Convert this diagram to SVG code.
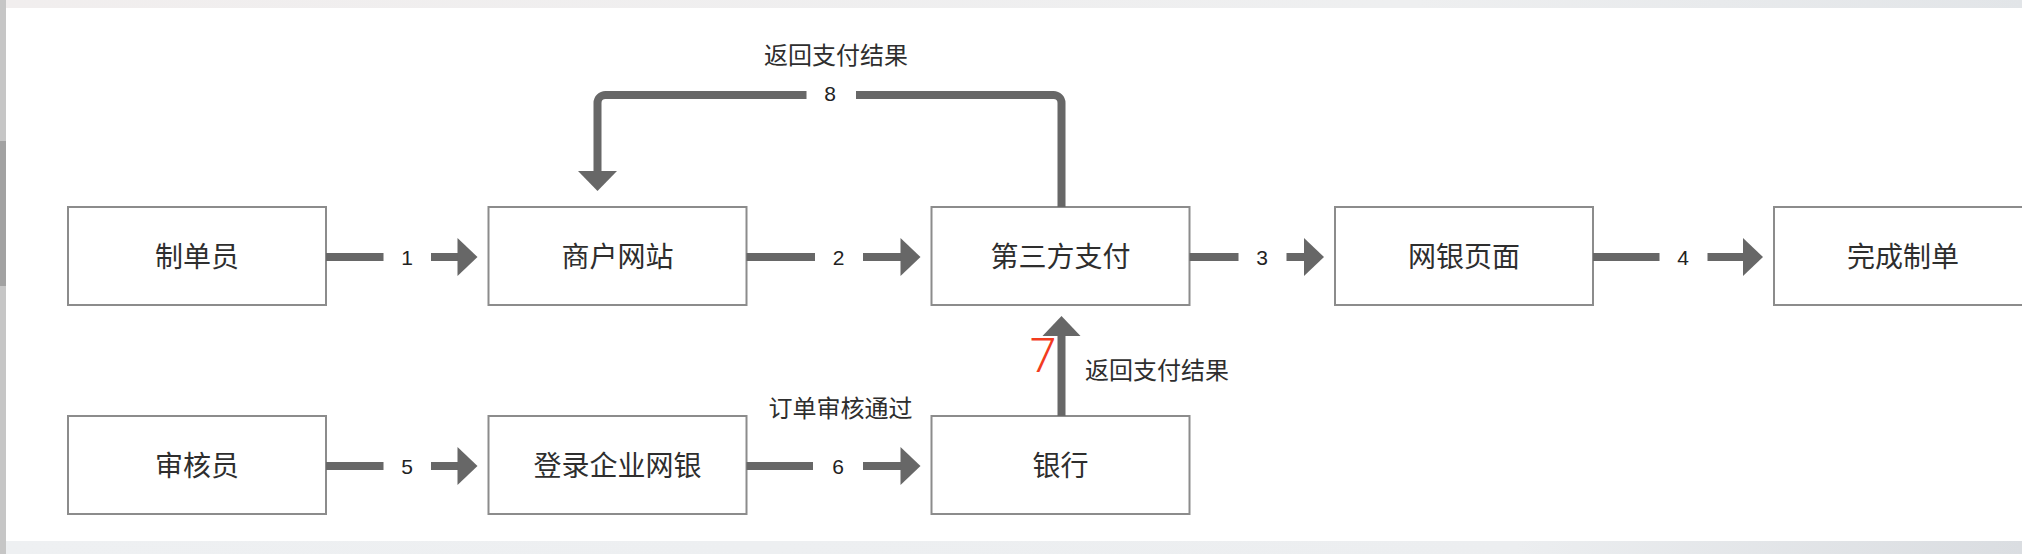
<svg xmlns="http://www.w3.org/2000/svg" width="2022" height="554" viewBox="0 0 2022 554">
  <defs>
    <linearGradient id="barTop" x1="0" y1="0" x2="1" y2="0">
      <stop offset="0" stop-color="#f1eeee"/>
      <stop offset="0.7" stop-color="#eeeff0"/>
      <stop offset="1" stop-color="#e2e5e8"/>
    </linearGradient>
    <linearGradient id="barBot" x1="0" y1="0" x2="1" y2="0">
      <stop offset="0" stop-color="#eef0f2"/>
      <stop offset="0.75" stop-color="#eceef0"/>
      <stop offset="1" stop-color="#dadde1"/>
    </linearGradient>
  </defs>
  <style>
    .box { fill: #ffffff; stroke: #8c8c8c; stroke-width: 2; }
    .btxt { font-family: "Liberation Sans", "Noto Sans CJK SC", sans-serif; font-size: 28px; fill: #2e2e2e; text-anchor: middle; }
    .lbl { font-family: "Liberation Sans", "Noto Sans CJK SC", sans-serif; font-size: 24px; fill: #2e2e2e; }
    .num { font-family: "Liberation Sans", "Noto Sans CJK SC", sans-serif; font-size: 21px; fill: #222222; text-anchor: middle; }
    .ln { fill: none; stroke: #676767; stroke-width: 8; stroke-linecap: butt; }
    .hd { fill: #676767; }
  </style>

  <rect x="0" y="0" width="2022" height="554" fill="#ffffff"/>
  <rect x="0" y="0" width="2022" height="8" fill="url(#barTop)"/>
  <rect x="0" y="541" width="2022" height="13" fill="url(#barBot)"/>
  <rect x="0" y="0" width="6" height="554" fill="#c6c6c6"/>
  <rect x="0" y="141" width="6" height="145" fill="#a2a2a2"/>

  <g id="n-zhidanyuan"><rect class="box" x="68" y="207" width="258" height="98"/><text class="btxt" x="197" y="267">制单员</text></g>
  <g id="n-shanghu"><rect class="box" x="488.5" y="207" width="258" height="98"/><text class="btxt" x="617.5" y="267">商户网站</text></g>
  <g id="n-disanfang"><rect class="box" x="931.5" y="207" width="258" height="98"/><text class="btxt" x="1060.5" y="267">第三方支付</text></g>
  <g id="n-wangyin"><rect class="box" x="1335" y="207" width="258" height="98"/><text class="btxt" x="1464" y="267">网银页面</text></g>
  <g id="n-wancheng"><rect class="box" x="1774" y="207" width="258" height="98"/><text class="btxt" x="1903" y="267">完成制单</text></g>
  <g id="n-shenheyuan"><rect class="box" x="68" y="416" width="258" height="98"/><text class="btxt" x="197" y="476">审核员</text></g>
  <g id="n-denglu"><rect class="box" x="488.5" y="416" width="258" height="98"/><text class="btxt" x="617.5" y="476">登录企业网银</text></g>
  <g id="n-yinhang"><rect class="box" x="931.5" y="416" width="258" height="98"/><text class="btxt" x="1060.5" y="476">银行</text></g>

  <g id="connectors">
    <path class="ln" d="M326 257 H383.5 M431 257 H458"/>
    <polygon class="hd" points="457.5,238 477.5,257 457.5,276"/>
    <text class="num" x="407" y="265">1</text>
    <path class="ln" d="M746.5 257 H815 M863 257 H901"/>
    <polygon class="hd" points="900.5,238 920.5,257 900.5,276"/>
    <text class="num" x="838.5" y="265">2</text>
    <path class="ln" d="M1189.5 257 H1238.5 M1286.5 257 H1304.5"/>
    <polygon class="hd" points="1304,238 1324,257 1304,276"/>
    <text class="num" x="1262" y="265">3</text>
    <path class="ln" d="M1593 257 H1659.5 M1707.5 257 H1743.5"/>
    <polygon class="hd" points="1743,238 1763,257 1743,276"/>
    <text class="num" x="1683" y="265">4</text>
    <path class="ln" d="M326 466 H383.5 M431 466 H458"/>
    <polygon class="hd" points="457.5,447 477.5,466 457.5,485"/>
    <text class="num" x="407" y="474">5</text>
    <path class="ln" d="M746.5 466 H813 M863 466 H901"/>
    <polygon class="hd" points="900.5,447 920.5,466 900.5,485"/>
    <text class="num" x="838" y="474">6</text>
    <text class="lbl" x="840.5" y="416.5" text-anchor="middle">订单审核通过</text>
    <path class="ln" d="M1061.5 416 V335"/>
    <polygon class="hd" points="1042.5,336 1061.5,316 1080.5,336"/>
    <text x="1043" y="372" text-anchor="middle" font-family="Roboto, 'Liberation Sans', sans-serif" font-weight="300" font-size="48" fill="#f23c1f">7</text>
    <text class="lbl" x="1085" y="379">返回支付结果</text>
    <path class="ln" d="M1061.5 207 V103 A8 8 0 0 0 1053.5 95 H856 M806.5 95 H605.5 A8 8 0 0 0 597.5 103 V172"/>
    <polygon class="hd" points="578,171 597.5,191 617,171"/>
    <text class="num" x="830" y="101">8</text>
    <text class="lbl" x="836" y="64" text-anchor="middle">返回支付结果</text>
  </g>
</svg>
